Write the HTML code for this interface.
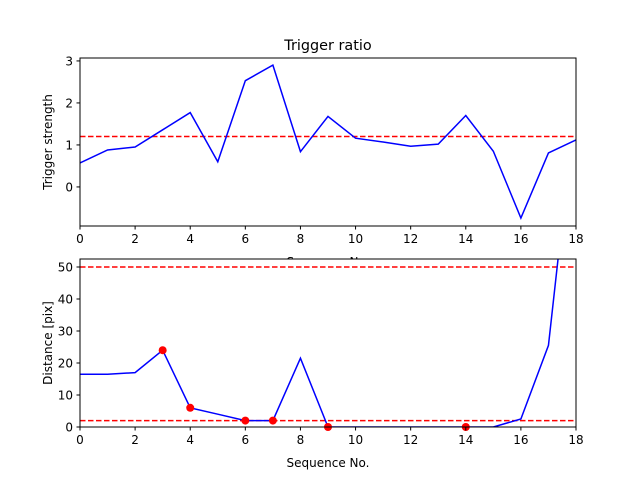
<!DOCTYPE html>
<html><head><meta charset="utf-8"><style>
body{margin:0;background:#fff;width:640px;height:480px;overflow:hidden}
svg text{font-family:"DejaVu Sans","Liberation Sans",sans-serif;fill:#000}
</style></head><body>
<svg id="chart" width="640" height="480" xmlns="http://www.w3.org/2000/svg">
<rect width="640" height="480" fill="#fff"/>
<defs>
<clipPath id="c1"><rect x="80" y="58" width="496" height="168"/></clipPath>
<clipPath id="c2"><rect x="80" y="259" width="496" height="168"/></clipPath>
</defs>
<g id="g"></g>
</svg>
<script>
const seq = [0,1,2,3,4,5,6,7,8,9,10,11,12,13,14,15,16,17,18];
const strength = [0.57,0.88,0.95,1.36,1.77,0.6,2.53,2.9,0.84,1.68,1.16,1.07,0.97,1.02,1.7,0.85,-0.74,0.81,1.12];
const strengthThreshold = 1.2;
const distance = [16.5,16.5,17,24,6,4,2,2,21.5,0,0,0,0,0,0,0,2.5,25.5,103];
const markerSeq = [3,4,6,7,9,14];
const distLines = [50,2];
const xTicks = [0,2,4,6,8,10,12,14,16,18];
const yTicksTop = [0,1,2,3];
const yTicksBot = [0,10,20,30,40,50];

const NS="http://www.w3.org/2000/svg";
const g=document.getElementById('g');
function mk(t,a,p){const e=document.createElementNS(NS,t);for(const k in a)e.setAttribute(k,a[k]);(p||g).appendChild(e);return e;}
const L=80,R=576;
const x=v=>L+(v-0)/18*(R-L);
const y1=v=>226-(v-(-0.93))/(3.07+0.93)*168;
const y2=v=>427-(v-0)/52.5*168;

function axes(top,bot,yf,yt,ylabel,xlabel,name){
  const fr=mk('rect',{x:L,y:top,width:R-L,height:bot-top,fill:'none',stroke:'#000','stroke-width':1});
  
  
  xTicks.forEach(v=>{
    mk('line',{x1:x(v),x2:x(v),y1:bot,y2:bot+3.5,stroke:'#000'});
    const t=mk('text',{x:x(v),y:bot+17,'font-size':12,'text-anchor':'middle'});t.textContent=v;
    
    
  });
  yt.forEach(v=>{
    mk('line',{x1:L-3.5,x2:L,y1:yf(v),y2:yf(v),stroke:'#000'});
    const t=mk('text',{x:L-7,y:yf(v)+4.5,'font-size':12,'text-anchor':'end'});t.textContent=v;
    
    
  });
  const yl=mk('text',{x:0,y:0,'font-size':12,'text-anchor':'middle',transform:`translate(52,${(top+bot)/2}) rotate(-90)`});
  yl.textContent=ylabel;
  
  
  const xl=mk('text',{x:(L+R)/2,y:bot+40,'font-size':12,'text-anchor':'middle'});
  xl.textContent=xlabel;
  
  
}

// top
const title=mk('text',{x:(L+R)/2,y:50,'font-size':14.4,'text-anchor':'middle'});
title.textContent='Trigger ratio';


const p1=mk('g',{'clip-path':'url(#c1)'});
const th=mk('line',{x1:L,x2:R,y1:y1(strengthThreshold),y2:y1(strengthThreshold),stroke:'#f00','stroke-width':1.5,'stroke-dasharray':'5.5,2.5'},p1);


const l1=mk('polyline',{points:seq.map((s,i)=>x(s)+','+y1(strength[i])).join(' '),fill:'none',stroke:'#00f','stroke-width':1.5},p1);


axes(58,226,y1,yTicksTop,'Trigger strength','Sequence No.','top-plot');

// bottom (white bg covers overlapping top xlabel like matplotlib)
mk('rect',{x:L,y:259,width:R-L,height:168,fill:'#fff'});
const p2=mk('g',{'clip-path':'url(#c2)'});
distLines.forEach(v=>{
  const d=mk('line',{x1:L,x2:R,y1:y2(v),y2:y2(v),stroke:'#f00','stroke-width':1.5,'stroke-dasharray':'5.5,2.5'},p2);
  
  
});
const l2=mk('polyline',{points:seq.map((s,i)=>x(s)+','+y2(distance[i])).join(' '),fill:'none',stroke:'#00f','stroke-width':1.5},p2);


const mg=mk('g',{});
markerSeq.forEach(s=>{
  const c=mk('circle',{cx:x(s),cy:y2(distance[seq.indexOf(s)]),r:4,fill:'#f00'},mg);
  
  
});
axes(259,427,y2,yTicksBot,'Distance [pix]','Sequence No.','bottom-plot');
</script>
</body></html>
